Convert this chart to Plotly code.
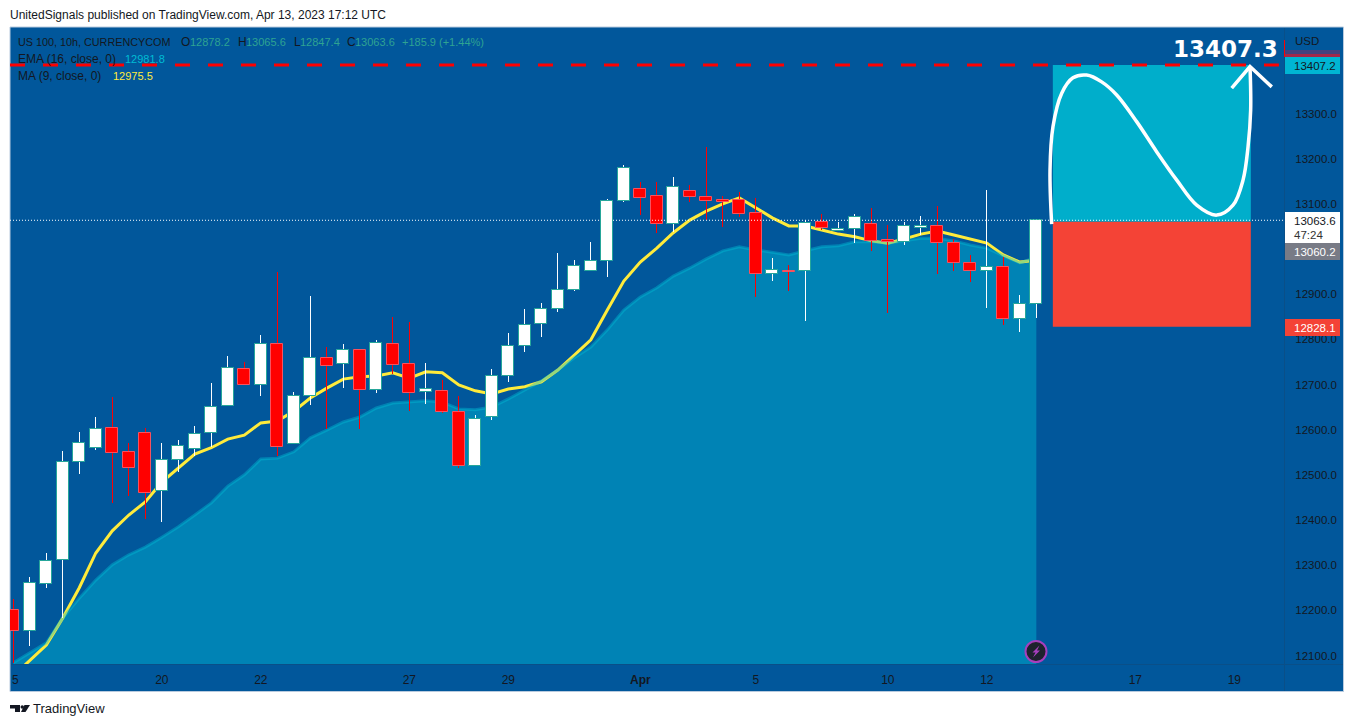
import plotly.graph_objects as go

# ---- data (prices) ----
opens = [12200,12154,12258,12311,12528,12559,12603,12550,12592,12464,12532,12557,12592,12652,12734,12698,12789,12568,12674,12758,
         12745,12776,12687,12790,12745,12683,12685,12639,12519,12627,12718,12785,12833,12867,12909,12951,12973,13106,13133,13117,
         13055,13128,13115,13108,13108,13079,12944,12951,12951,13059,13039,13044,13055,13019,13015,13046,13052,13013,12968,12951,
         12960,12844,12878.2]
highs = [12225,12274,12327,12553,12595,12628,12672,12570,12603,12571,12577,12608,12703,12763,12750,12810,12949,12684,12896,12782,
         12790,12778,12799,12849,12838,12747,12710,12675,12633,12734,12813,12867,12881,12991,12975,13015,13111,13186,13148,13148,
         13159,13141,13225,13117,13126,13113,12979,12964,13064,13078,13060,13078,13090,13053,13059,13072,13095,13022,12986,13130,
         12982,12898,13065.6]
lows = [12084,12122,12250,12183,12502,12555,12438,12454,12402,12396,12506,12542,12562,12652,12698,12675,12542,12568,12655,12601,
        12693,12601,12682,12724,12642,12656,12636,12516,12519,12622,12706,12772,12805,12861,12906,12951,12937,13103,13075,13035,
        13038,13103,13064,13049,13071,12894,12930,12906,12841,13042,13039,13013,12996,12858,13009,13031,12945,12952,12928,12870,
        12831,12817,12847.4]
closes = [12154,12260,12309,12528,12570,12601,12548,12515,12459,12532,12563,12590,12650,12736,12698,12789,12561,12674,12758,12740,
          12776,12687,12793,12743,12681,12689,12639,12519,12623,12718,12785,12831,12867,12909,12962,12973,13106,13179,13113,13055,
          13137,13115,13107,13105,13077,12944,12954,12950,13057,13047,13044,13070,13017,13015,13050,13052,13013,12968,12951,12960,
          12844,12878,13063.6]
ma9 = [12055,12090,12123,12183,12250,12327,12376,12411,12440,12484,12515,12546,12560,12579,12588,12615,12619,12641,12670,12692,
       12712,12717,12719,12726,12714,12728,12726,12699,12686,12679,12690,12695,12706,12732,12765,12799,12865,12929,12971,13002,
       13036,13064,13084,13100,13113,13091,13069,13051,13051,13042,13033,13027,13018,13013,13022,13033,13040,13031,13022,13013,
       12987,12971,12975.5]
ema16 = [12084,12106,12128,12183,12227,12267,12301,12323,12340,12362,12385,12411,12438,12475,12500,12535,12537,12551,12582,12599,
         12617,12628,12648,12659,12661,12664,12661,12646,12644,12650,12668,12688,12708,12732,12759,12783,12821,12865,12894,12914,
         12940,12958,12978,12996,13005,12998,12993,12987,12996,13005,13007,13016,13016,13013,13018,13024,13024,13018,13009,13002,
         12985,12969,12981.8]
curve_pos = [62.93,62.83,63.01,63.54,64.22,65.05,65.96,66.87,68.08,69.30,70.50,71.72,72.93,73.92,74.53,74.83,74.99,74.95]
curve_price = [13055,13175,13271,13345,13379,13385,13370,13341,13282,13215,13153,13097,13075,13097,13153,13226,13308,13404]
arrow_pos = [73.84,74.95,76.27]
arrow_price = [13356,13404,13359]
target_price = 13407.2
entry_price = 13060.2
stop_price = 12828.1
last_price = 13063.6
level_price = 13407.3
pos_start = 63
pos_end = 75
y_ticks = [12100,12200,12300,12400,12500,12600,12700,12800,12900,13100,13200,13300]
x_tick_pos = [0.12,9,15,24,30,38,45,53,59,68,74]
x_tick_labels = ["5","20","22","27","29","<b>Apr</b>","5","10","12","17","19"]

# ---- layout geometry ----
W, H = 1354, 727
L, R, T, B = 10, 1284, 27, 664
def px(x): return (x - L) / (R - L)
def py(y): return (B - y) / (B - T)

BG = "#01579b"
DARK = "#131722"
VAL = "#2ea392"
FONT = "Liberation Sans"
idx = list(range(len(closes)))
up = [c >= o for o, c in zip(opens, closes)]

fig = go.Figure()
fig.add_trace(go.Scatter(x=idx, y=ema16, mode="lines", line=dict(width=0, color="#0083b5"),
                         fill="tozeroy", fillcolor="#0083b5", hoverinfo="skip"))
fig.add_trace(go.Scatter(x=idx, y=ma9, mode="lines", line=dict(width=3, color="#ffeb3b"), hoverinfo="skip"))
fig.add_trace(go.Scatter(x=idx, y=ema16, mode="lines", line=dict(width=3, color="rgba(0,188,212,0.42)"), hoverinfo="skip"))

# candles on an overlay axis pair, so they sit on top of the lines
fig.add_trace(go.Bar(x=idx, base=lows, y=[h - l for h, l in zip(highs, lows)], width=0.06,
                     marker=dict(color=["rgba(255,255,255,0.99)" if u else "rgba(255,0,0,0.99)" for u in up], line=dict(width=0)),
                     xaxis="x2", yaxis="y2", hoverinfo="skip"))
fig.add_trace(go.Bar(x=idx, base=[min(o, c) for o, c in zip(opens, closes)],
                     y=[abs(c - o) for o, c in zip(opens, closes)], width=0.72,
                     marker=dict(color=["#ffffff" if u else "#ff0000" for u in up],
                                 line=dict(width=1, color=["#26a69a" if u else "#f7525f" for u in up])),
                     xaxis="x2", yaxis="y2", hoverinfo="skip"))
fig.add_trace(go.Scatter(x=curve_pos, y=curve_price, mode="lines",
                         line=dict(width=3.5, color="#ffffff", shape="spline", smoothing=1),
                         xaxis="x2", yaxis="y2", hoverinfo="skip"))
fig.add_trace(go.Scatter(x=arrow_pos, y=arrow_price, mode="lines", line=dict(width=3.5, color="#ffffff"),
                         xaxis="x2", yaxis="y2", hoverinfo="skip"))

x_range = [-0.2, 77.01]
y_range = [12081.2, 13491.5]
shapes = []
def paper_rect(x0, y0, x1, y1, fill, line=None, layer="above", lw=0):
    shapes.append(dict(type="rect", xref="paper", yref="paper", x0=px(x0), x1=px(x1), y0=py(y1), y1=py(y0),
                       fillcolor=fill, line=dict(color=line or fill, width=lw), layer=layer))
def paper_path(points, fill, layer="above"):
    d = "M" + " L".join(f"{px(a):.5f},{py(b):.5f}" for a, b in points) + " Z"
    shapes.append(dict(type="path", xref="paper", yref="paper", path=d, fillcolor=fill, line=dict(width=0), layer=layer))
def paper_line(x0, y0, x1, y1, color, width=1):
    shapes.append(dict(type="line", xref="paper", yref="paper", x0=px(x0), x1=px(x1), y0=py(y0), y1=py(y1),
                       line=dict(color=color, width=width), layer="above"))

# pane background and separators
paper_rect(10, 27, 1343.5, 691.5, BG, "#b8cade", "below", 1)
paper_line(1284.5, 28, 1284.5, 691, "#0a4f88")
paper_line(11, 664.5, 1343, 664.5, "#0a4f88")

# long-position boxes
shapes.append(dict(type="rect", xref="x", yref="y", x0=pos_start, x1=pos_end, y0=entry_price, y1=target_price,
                   fillcolor="#00aecb", line=dict(width=0), layer="below"))
shapes.append(dict(type="rect", xref="x", yref="y", x0=pos_start, x1=pos_end, y0=stop_price, y1=entry_price,
                   fillcolor="#f44336", line=dict(width=0), layer="below"))
# price lines
shapes.append(dict(type="line", xref="x", yref="y", x0=x_range[0], x1=x_range[1], y0=last_price, y1=last_price,
                   line=dict(color="#ffffff", width=1, dash="1px,2px"), layer="above"))
shapes.append(dict(type="line", xref="x", yref="y", x0=x_range[0], x1=76.7, y0=level_price, y1=level_price,
                   line=dict(color="#ff0000", width=3, dash="15px,18px"), layer="above"))

# price tags
paper_rect(1285, 50, 1340, 54, "rgba(150,40,90,0.45)")
paper_rect(1285, 54, 1340, 57, "rgba(190,30,60,0.85)")
paper_line(1284.5, 40, 1284.5, 57, "#ff0000")
paper_rect(1285, 57, 1340, 74, "#00b5d3")
paper_rect(1285, 212, 1340, 243, "#ffffff")
paper_rect(1285, 243, 1340, 260, "#787b86")
paper_rect(1285, 319, 1340, 336, "#f44336")

# alert badge
shapes.append(dict(type="circle", xref="paper", yref="paper", x0=px(1025.5), x1=px(1046.5), y0=py(662), y1=py(641),
                   fillcolor="#1e222d", line=dict(color="#a63fbd", width=2), layer="above"))
paper_path([(1039.5, 645.5), (1032.5, 652.5), (1035.5, 652.5), (1033, 657.5), (1040, 650.5), (1037, 650.5)], "#a63fbd")

# TradingView logo
paper_path([(10, 705), (20, 705), (20, 712), (15, 712), (15, 708.5), (10, 708.5)], "#131722")
shapes.append(dict(type="circle", xref="paper", yref="paper", x0=px(20.5), x1=px(24), y0=py(708.7), y1=py(705.2),
                   fillcolor="#131722", line=dict(width=0), layer="above"))
paper_path([(24.5, 705), (30, 705), (25.5, 712), (21, 712)], "#131722")

ann = []
def text(x, y, s, color=DARK, size=12, anchor="left", family=FONT):
    ann.append(dict(xref="paper", yref="paper", x=px(x), y=py(y), text=s, showarrow=False, xanchor=anchor,
                    yanchor="middle", xshift=0, font=dict(color=color, size=size, family=family), borderpad=0, borderwidth=0))

text(10, 15, "UnitedSignals published on TradingView.com, Apr 13, 2023 17:12 UTC", "#131722", 12)
text(33, 709, "TradingView", "#131722", 13)
text(18, 42, "US 100, 10h, CURRENCYCOM", size=10.8)
text(181, 42, "O")
text(190, 42, f"{opens[-1]}", VAL, 11)
text(238, 42, "H")
text(246, 42, f"{highs[-1]}", VAL, 11)
text(294, 42, "L")
text(300, 42, f"{lows[-1]}", VAL, 11)
text(347, 42, "C")
text(355, 42, f"{closes[-1]}", VAL, 11)
text(402, 42, "+185.9 (+1.44%)", VAL, 11)
text(18, 59, "EMA (16, close, 0)")
text(125, 59, f"{ema16[-1]}", "#00bcd4", 11)
text(18, 76, "MA (9, close, 0)")
text(113, 76, f"{ma9[-1]}", "#ffeb3b", 11)
text(1295, 41, "USD", size=11.5)
text(1294, 65.5, f"{target_price}", size=11.5)
text(1294, 220.5, f"{last_price}", size=11.5)
text(1294, 235, "47:24", "#333333", 11.5)
text(1294, 252, f"{entry_price}", "#ffffff", 11.5)
text(1294, 327.5, f"{stop_price}", "#ffffff", 11.5)
text(1278, 49, f"<b>{level_price}</b>", "#ffffff", 23, "right", "DejaVu Sans")

fig.update_layout(
    width=W, height=H, margin=dict(l=L, r=W - R, t=T, b=H - B, pad=0), autosize=False,
    paper_bgcolor="#ffffff", plot_bgcolor=BG, showlegend=False, barmode="overlay", bargap=0,
    hovermode=False, shapes=shapes, annotations=ann,
    font=dict(family=FONT, color=DARK, size=12),
    xaxis=dict(range=x_range, showgrid=False, zeroline=False, showline=False, tickmode="array",
               tickvals=x_tick_pos, ticktext=x_tick_labels, ticks="outside", ticklen=5,
               tickcolor="rgba(0,0,0,0)", tickfont=dict(size=12, color=DARK, family=FONT), fixedrange=True),
    yaxis=dict(range=y_range, side="right", showgrid=False, zeroline=False, showline=False, tickmode="array",
               tickvals=y_ticks, ticktext=[f"{v}.0" for v in y_ticks], ticks="outside", ticklen=8,
               tickcolor="rgba(0,0,0,0)", tickfont=dict(size=11.5, color=DARK, family=FONT), fixedrange=True),
    xaxis2=dict(range=x_range, overlaying="x", visible=False, fixedrange=True),
    yaxis2=dict(range=y_range, overlaying="y", visible=False, fixedrange=True),
)
fig.write_html("out.html", config=dict(displayModeBar=False),
               post_script="document.body.style.margin='0';document.body.style.overflow='hidden';")
